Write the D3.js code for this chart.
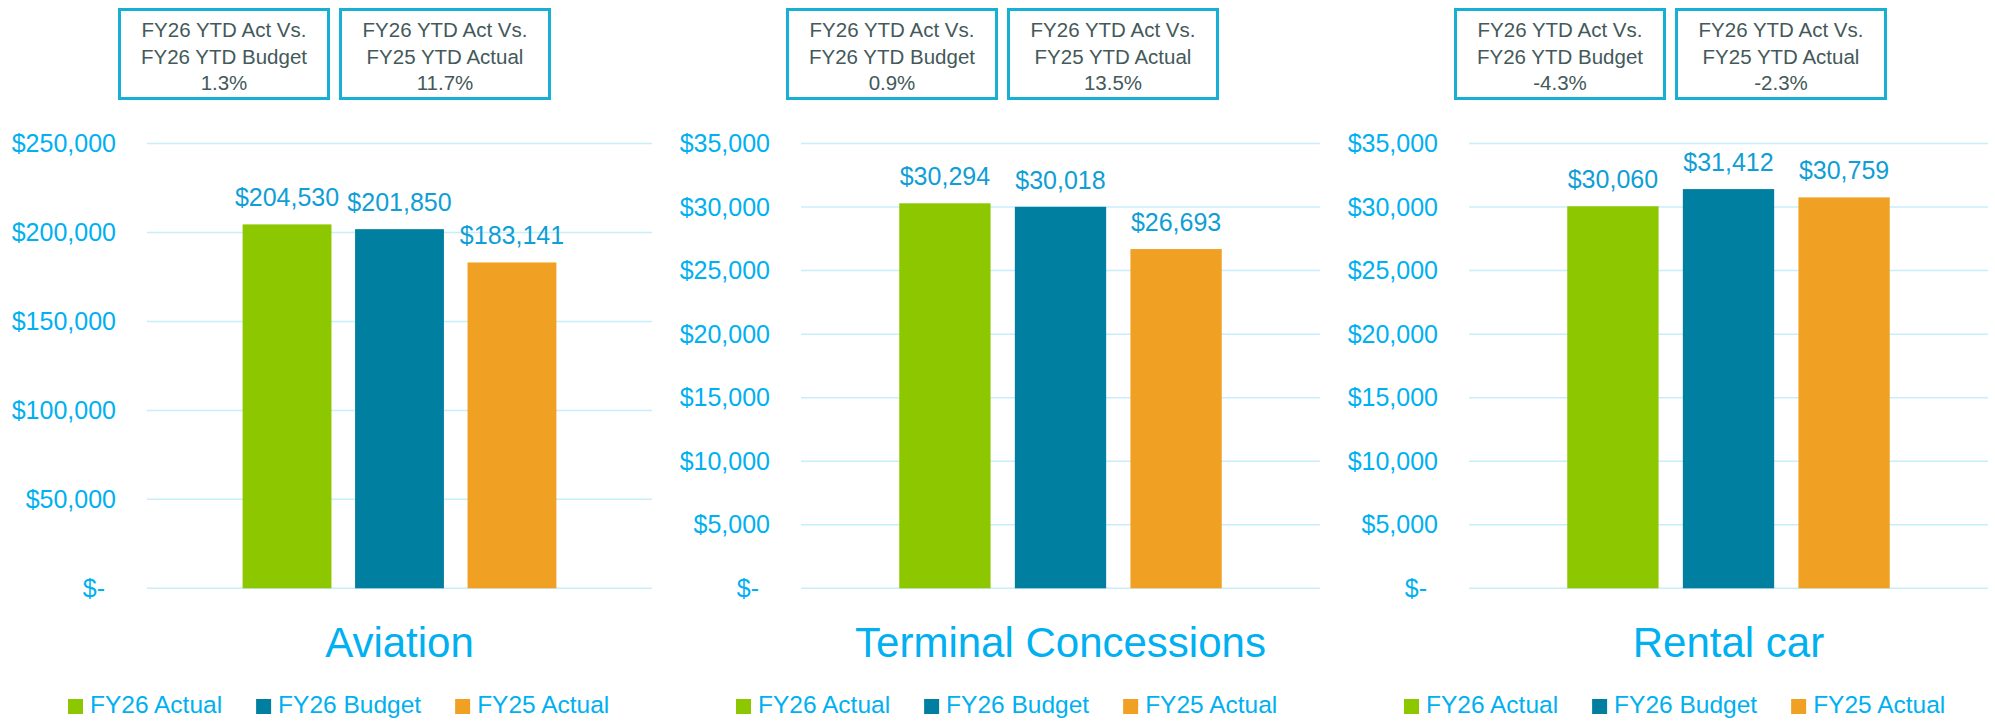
<!DOCTYPE html>
<html>
<head>
<meta charset="utf-8">
<title>YTD revenue by area</title>
<style>
  body { margin: 0; background: #fff; }
  svg { display: block; font-family: "Liberation Sans", Arial, sans-serif; }
</style>
</head>
<body>
<svg width="1995" height="722"></svg>
<script src="https://cdn.jsdelivr.net/npm/d3@7"></script>
<script>
  // data
  var categories = ["Aviation", "Terminal Concessions", "Rental car"];
  var seriesNames = ["FY26 Actual", "FY26 Budget", "FY25 Actual"];
  var fy26Actual = [204530, 30294, 30060];
  var fy26Budget = [201850, 30018, 31412];
  var fy25Actual = [183141, 26693, 30759];
  var yMax = [250000, 35000, 35000];
  var yStep = [50000, 5000, 5000];
  var vsBudget = ["1.3%", "0.9%", "-4.3%"];
  var vsPrior = ["11.7%", "13.5%", "-2.3%"];
  var boxLine1 = "FY26 YTD Act Vs.";
  var boxLine2 = ["FY26 YTD Budget", "FY25 YTD Actual"];

  var colors = ["#8DC700", "#017FA0", "#F0A123"];

  // layout
  var panelW = 668,
    plotLeft = [147, 133, 133],
    plotRight = 652,
    plotTop = 143.5,
    plotBottom = 588.3;

  var svg = d3.select("svg");

  categories.forEach(function (cat, i) {
    var g = svg.append("g").attr("transform", "translate(" + (i * panelW) + ",0)");
    var vals = [fy26Actual[i], fy26Budget[i], fy25Actual[i]];

    var y = d3.scaleLinear().domain([0, yMax[i]]).range([plotBottom, plotTop]);
    var x = d3.scaleBand()
      .domain(seriesNames)
      .range([plotLeft[i], plotRight])
      .paddingInner(0.21)
      .paddingOuter(0.85);
    var ticks = d3.range(0, yMax[i] + 1, yStep[i]);

    // gridlines
    g.append("g")
      .selectAll("line")
      .data(ticks)
      .enter().append("line")
      .attr("x1", plotLeft[i])
      .attr("x2", plotRight)
      .attr("y1", function (d) { return y(d); })
      .attr("y2", function (d) { return y(d); })
      .attr("stroke", "#C8EEFB")
      .attr("stroke-width", 1.5);

    // y axis labels
    var axis = g.append("g")
      .attr("transform", "translate(" + plotLeft[i] + ",0)")
      .call(d3.axisLeft(y).tickValues(ticks).tickSize(0).tickPadding(31)
        .tickFormat(function (d) { return d === 0 ? "$-" : "$" + d3.format(",")(d); }));
    axis.select(".domain").remove();
    axis.selectAll("text")
      .attr("fill", "#00B0F0")
      .attr("font-size", "25px")
      .attr("font-family", "Liberation Sans, Arial, sans-serif")
      .attr("dx", function (d) { return d === 0 ? -11 : 0; });

    // bars
    g.append("g")
      .selectAll("rect")
      .data(vals)
      .enter().append("rect")
      .attr("x", function (d, j) { return x(seriesNames[j]); })
      .attr("y", function (d) { return y(d); })
      .attr("width", x.bandwidth())
      .attr("height", function (d) { return y(0) - y(d); })
      .attr("fill", function (d, j) { return colors[j]; });

    // value labels
    g.append("g")
      .selectAll("text")
      .data(vals)
      .enter().append("text")
      .attr("x", function (d, j) { return x(seriesNames[j]) + x.bandwidth() / 2; })
      .attr("y", function (d) { return y(d) - 18; })
      .attr("text-anchor", "middle")
      .attr("font-size", "25px")
      .attr("fill", "#0F9ED5")
      .text(function (d) { return "$" + d3.format(",")(d); });

    // title under the plot
    g.append("text")
      .attr("x", (plotLeft[i] + plotRight) / 2)
      .attr("y", 657)
      .attr("text-anchor", "middle")
      .attr("font-size", "42px")
      .attr("fill", "#00B0F0")
      .text(cat);

    // comparison boxes
    var boxes = [vsBudget[i], vsPrior[i]];
    boxes.forEach(function (v, k) {
      var bx = 118 + k * 221;
      g.append("rect")
        .attr("x", bx + 1.5)
        .attr("y", 9.5)
        .attr("width", 209)
        .attr("height", 89)
        .attr("fill", "#fff")
        .attr("stroke", "#17B0D4")
        .attr("stroke-width", 3);
      [boxLine1, boxLine2[k], v].forEach(function (t, l) {
        g.append("text")
          .attr("x", bx + 106)
          .attr("y", [37, 64, 90][l])
          .attr("text-anchor", "middle")
          .attr("font-size", "20.5px")
          .attr("fill", "#44595A")
          .text(t);
      });
    });

    // legend
    var lx = 68;
    seriesNames.forEach(function (s, j) {
      g.append("rect")
        .attr("x", lx)
        .attr("y", 699)
        .attr("width", 15)
        .attr("height", 15)
        .attr("fill", colors[j]);
      var t = g.append("text")
        .attr("x", lx + 22)
        .attr("y", 713)
        .attr("font-size", "24.5px")
        .attr("fill", "#00B0F0")
        .text(s);
      lx += 22 + t.node().getComputedTextLength() + 34;
    });
  });
</script>
</body>
</html>
